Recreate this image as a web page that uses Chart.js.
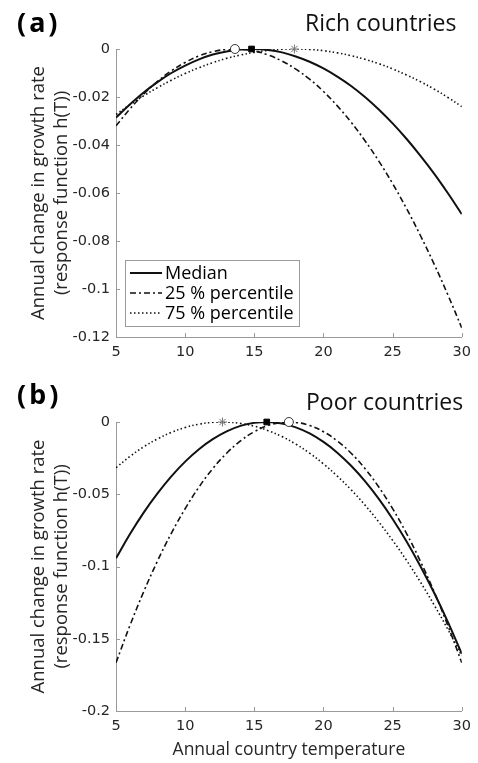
<!DOCTYPE html>
<html>
<head>
<meta charset="utf-8">
<script src="https://cdn.jsdelivr.net/npm/chart.js@4.4.1/dist/chart.umd.min.js"></script>
<style>
  html, body { margin: 0; padding: 0; background: #fff; }
  body { width: 478px; height: 763px; position: relative; overflow: hidden; font-family: "Open Sans", sans-serif; }
  .panel { position: absolute; left: 0; width: 478px; }
  .tag { position: absolute; font-family: "Noto Sans", sans-serif; font-weight: 700; font-size: 27px; letter-spacing: 3px; color: #000; line-height: 1; }
  .ttl { position: absolute; font-size: 23px; color: #111; line-height: 1; white-space: nowrap; }
</style>
</head>
<body>
<div class="panel" style="top:0;height:380px"><canvas id="rich"></canvas></div>
<div class="panel" style="top:380px;height:383px"><canvas id="poor"></canvas></div>
<div class="tag" style="left:17px;top:8px">(a)</div>
<div class="ttl" style="left:305px;top:11px">Rich countries</div>
<div class="tag" style="left:17px;top:380px">(b)</div>
<div class="ttl" style="left:306px;top:390px">Poor countries</div>
<script>
// temperatures (x)
const temps = [5,6,7,8,9,10,11,12,13,14,15,16,17,18,19,20,21,22,23,24,25,26,27,28,29,30];

// rich countries
const richMedian = [-0.0286,-0.0231,-0.0181,-0.0138,-0.0100,-0.0069,-0.0043,-0.0023,-0.0010,-0.0002,0.0000,-0.0004,-0.0014,-0.0031,-0.0053,-0.0081,-0.0115,-0.0154,-0.0200,-0.0252,-0.0310,-0.0374,-0.0444,-0.0519,-0.0601,-0.0688];
const richP25 = [-0.0320,-0.0250,-0.0188,-0.0135,-0.0091,-0.0056,-0.0029,-0.0011,-0.0002,-0.0001,-0.0008,-0.0025,-0.0050,-0.0084,-0.0126,-0.0177,-0.0237,-0.0305,-0.0382,-0.0467,-0.0561,-0.0664,-0.0776,-0.0896,-0.1025,-0.1162];
const richP75 = [-0.0273,-0.0232,-0.0195,-0.0161,-0.0130,-0.0102,-0.0078,-0.0057,-0.0039,-0.0025,-0.0014,-0.0006,-0.0001,0.0000,-0.0002,-0.0007,-0.0016,-0.0028,-0.0043,-0.0061,-0.0083,-0.0108,-0.0136,-0.0167,-0.0202,-0.0240];
// optimum markers: [median, 25%, 75%]
const richPeaks = [14.8, 13.6, 17.9];

// poor countries
const poorMedian = [-0.0943,-0.0777,-0.0627,-0.0494,-0.0376,-0.0274,-0.0188,-0.0119,-0.0065,-0.0027,-0.0006,0.0000,-0.0011,-0.0037,-0.0079,-0.0138,-0.0212,-0.0303,-0.0409,-0.0532,-0.0671,-0.0825,-0.0996,-0.1182,-0.1385,-0.1604];
const poorP25 = [-0.1666,-0.1410,-0.1175,-0.0962,-0.0770,-0.0600,-0.0450,-0.0322,-0.0216,-0.0131,-0.0067,-0.0024,-0.0003,-0.0003,-0.0024,-0.0067,-0.0131,-0.0216,-0.0322,-0.0450,-0.0600,-0.0770,-0.0962,-0.1175,-0.1410,-0.1666];
const poorP75 = [-0.0316,-0.0239,-0.0172,-0.0117,-0.0072,-0.0038,-0.0015,-0.0002,-0.0001,-0.0010,-0.0029,-0.0060,-0.0101,-0.0153,-0.0216,-0.0290,-0.0374,-0.0469,-0.0575,-0.0692,-0.0819,-0.0957,-0.1106,-0.1266,-0.1436,-0.1618];
const poorPeaks = [15.9, 17.5, 12.7];

const seriesLabels = ['Median', '25 % percentile', '75 % percentile'];
const xTicks = [5, 10, 15, 20, 25, 30];

const AXIS = '#9a9a9a';
const TEXT = '#262626';
const INK = '#111111';
const DASHES = [[], [6, 3, 2, 3], [1.5, 2.5]];
const WIDTHS = [2, 1.6, 1.6];

const pts = vals => temps.map((t, i) => ({ x: t, y: vals[i] }));

// MATLAB style ticks pointing into the plot
const innerTicks = {
    id: 'innerTicks',
    afterDatasetsDraw(chart) {
        const { ctx, chartArea: a, scales: { x, y } } = chart;
        ctx.save();
        ctx.strokeStyle = AXIS;
        ctx.lineWidth = 1;
        ctx.beginPath();
        x.ticks.forEach(t => {
            const px = Math.round(x.getPixelForValue(t.value)) + 0.5;
            ctx.moveTo(px, a.bottom); ctx.lineTo(px, a.bottom - 4);
        });
        y.ticks.forEach(t => {
            const py = Math.round(y.getPixelForValue(t.value)) + 0.5;
            ctx.moveTo(a.left, py); ctx.lineTo(a.left + 4, py);
        });
        ctx.stroke();
        ctx.restore();
    }
};

// boxed legend inside panel (a)
const boxLegend = {
    id: 'boxLegend',
    afterDraw(chart, args, opts) {
        if (!opts.show) return;
        const { ctx } = chart;
        const bx = opts.x, by = opts.y, bw = opts.w, bh = opts.h;
        ctx.save();
        ctx.fillStyle = '#fff';
        ctx.fillRect(bx, by, bw, bh);
        ctx.strokeStyle = AXIS;
        ctx.lineWidth = 1;
        ctx.strokeRect(bx + 0.5, by + 0.5, bw, bh);
        ctx.font = '18px "Open Sans", sans-serif';
        ctx.textBaseline = 'middle';
        ctx.fillStyle = '#000';
        for (let i = 0; i < 3; i++) {
            const ly = by + 13 + i * 20;
            ctx.beginPath();
            ctx.setLineDash(DASHES[i]);
            ctx.lineWidth = WIDTHS[i];
            ctx.strokeStyle = INK;
            ctx.moveTo(bx + 5, ly); ctx.lineTo(bx + 37, ly);
            ctx.stroke();
            ctx.setLineDash([]);
            ctx.fillText(seriesLabels[i], bx + 40, ly + 1);
        }
        ctx.restore();
    }
};

function makeChart(id, curves, peaks, yMin, yStep, opts) {
    const datasets = curves.map((vals, i) => ({
        label: seriesLabels[i],
        data: pts(vals),
        showLine: true,
        borderColor: INK,
        borderWidth: WIDTHS[i],
        borderDash: DASHES[i],
        pointRadius: 0,
        tension: 0.4,
        fill: false,
        order: 2
    }));
    const styles = [
        { pointStyle: 'rect', radius: 4, bg: '#000', bd: '#000' },
        { pointStyle: 'circle', radius: 4.5, bg: '#fff', bd: '#333' },
        { pointStyle: 'star', radius: 4.5, bg: '#777', bd: '#777' }
    ];
    peaks.forEach((p, i) => {
        datasets.push({
            label: 'peak' + i,
            data: [{ x: p, y: 0 }],
            pointStyle: styles[i].pointStyle,
            pointRadius: styles[i].radius,
            pointBackgroundColor: styles[i].bg,
            pointBorderColor: styles[i].bd,
            pointBorderWidth: 1,
            clip: false,
            order: 1
        });
    });

    return new Chart(document.getElementById(id), {
        type: 'scatter',
        data: { datasets },
        plugins: [innerTicks, boxLegend],
        options: {
            responsive: true,
            maintainAspectRatio: false,
            animation: false,
            layout: { padding: { top: opts.top, right: 15, left: 0, bottom: 0 } },
            scales: {
                x: {
                    type: 'linear',
                    min: 5, max: 30,
                    afterBuildTicks: s => { s.ticks = xTicks.map(v => ({ value: v })); },
                    afterFit: s => { s.height = opts.xHeight; },
                    grid: { display: true, drawOnChartArea: false, drawTicks: false },
                    border: { display: true, color: AXIS, width: 1 },
                    ticks: { padding: 7, color: TEXT, font: { family: 'DejaVu Sans', size: 14.5 }, maxRotation: 0 },
                    title: {
                        display: !!opts.xTitle,
                        text: opts.xTitle || '',
                        color: TEXT,
                        font: { family: 'Open Sans', size: 17.5 },
                        padding: { top: 0, bottom: 2 }
                    }
                },
                y: {
                    min: yMin, max: 0,
                    ticks: {
                        stepSize: yStep,
                        padding: 6,
                        color: TEXT,
                        font: { family: 'DejaVu Sans', size: 14.5 },
                        callback: v => String(parseFloat(Number(v).toFixed(4)))
                    },
                    afterFit: s => { s.width = 116; },
                    grid: { display: true, drawOnChartArea: false, drawTicks: false },
                    border: { display: true, color: AXIS, width: 1 },
                    title: {
                        display: true,
                        text: ['Annual change in growth rate', '(response function h(T))'],
                        color: TEXT,
                        font: { family: 'Open Sans', size: 18.5, lineHeight: 1.2 },
                        padding: { top: 28, bottom: 0 }
                    }
                }
            },
            plugins: {
                legend: { display: false },
                tooltip: { enabled: false },
                boxLegend: opts.legend || { show: false }
            }
        }
    });
}

makeChart('rich', [richMedian, richP25, richP75], richPeaks, -0.12, 0.02,
    { top: 49, xHeight: 43, legend: { show: true, x: 125, y: 260, w: 174, h: 66 } });
makeChart('poor', [poorMedian, poorP25, poorP75], poorPeaks, -0.2, 0.05,
    { top: 42, xHeight: 52, xTitle: 'Annual country temperature' });
</script>
</body>
</html>
